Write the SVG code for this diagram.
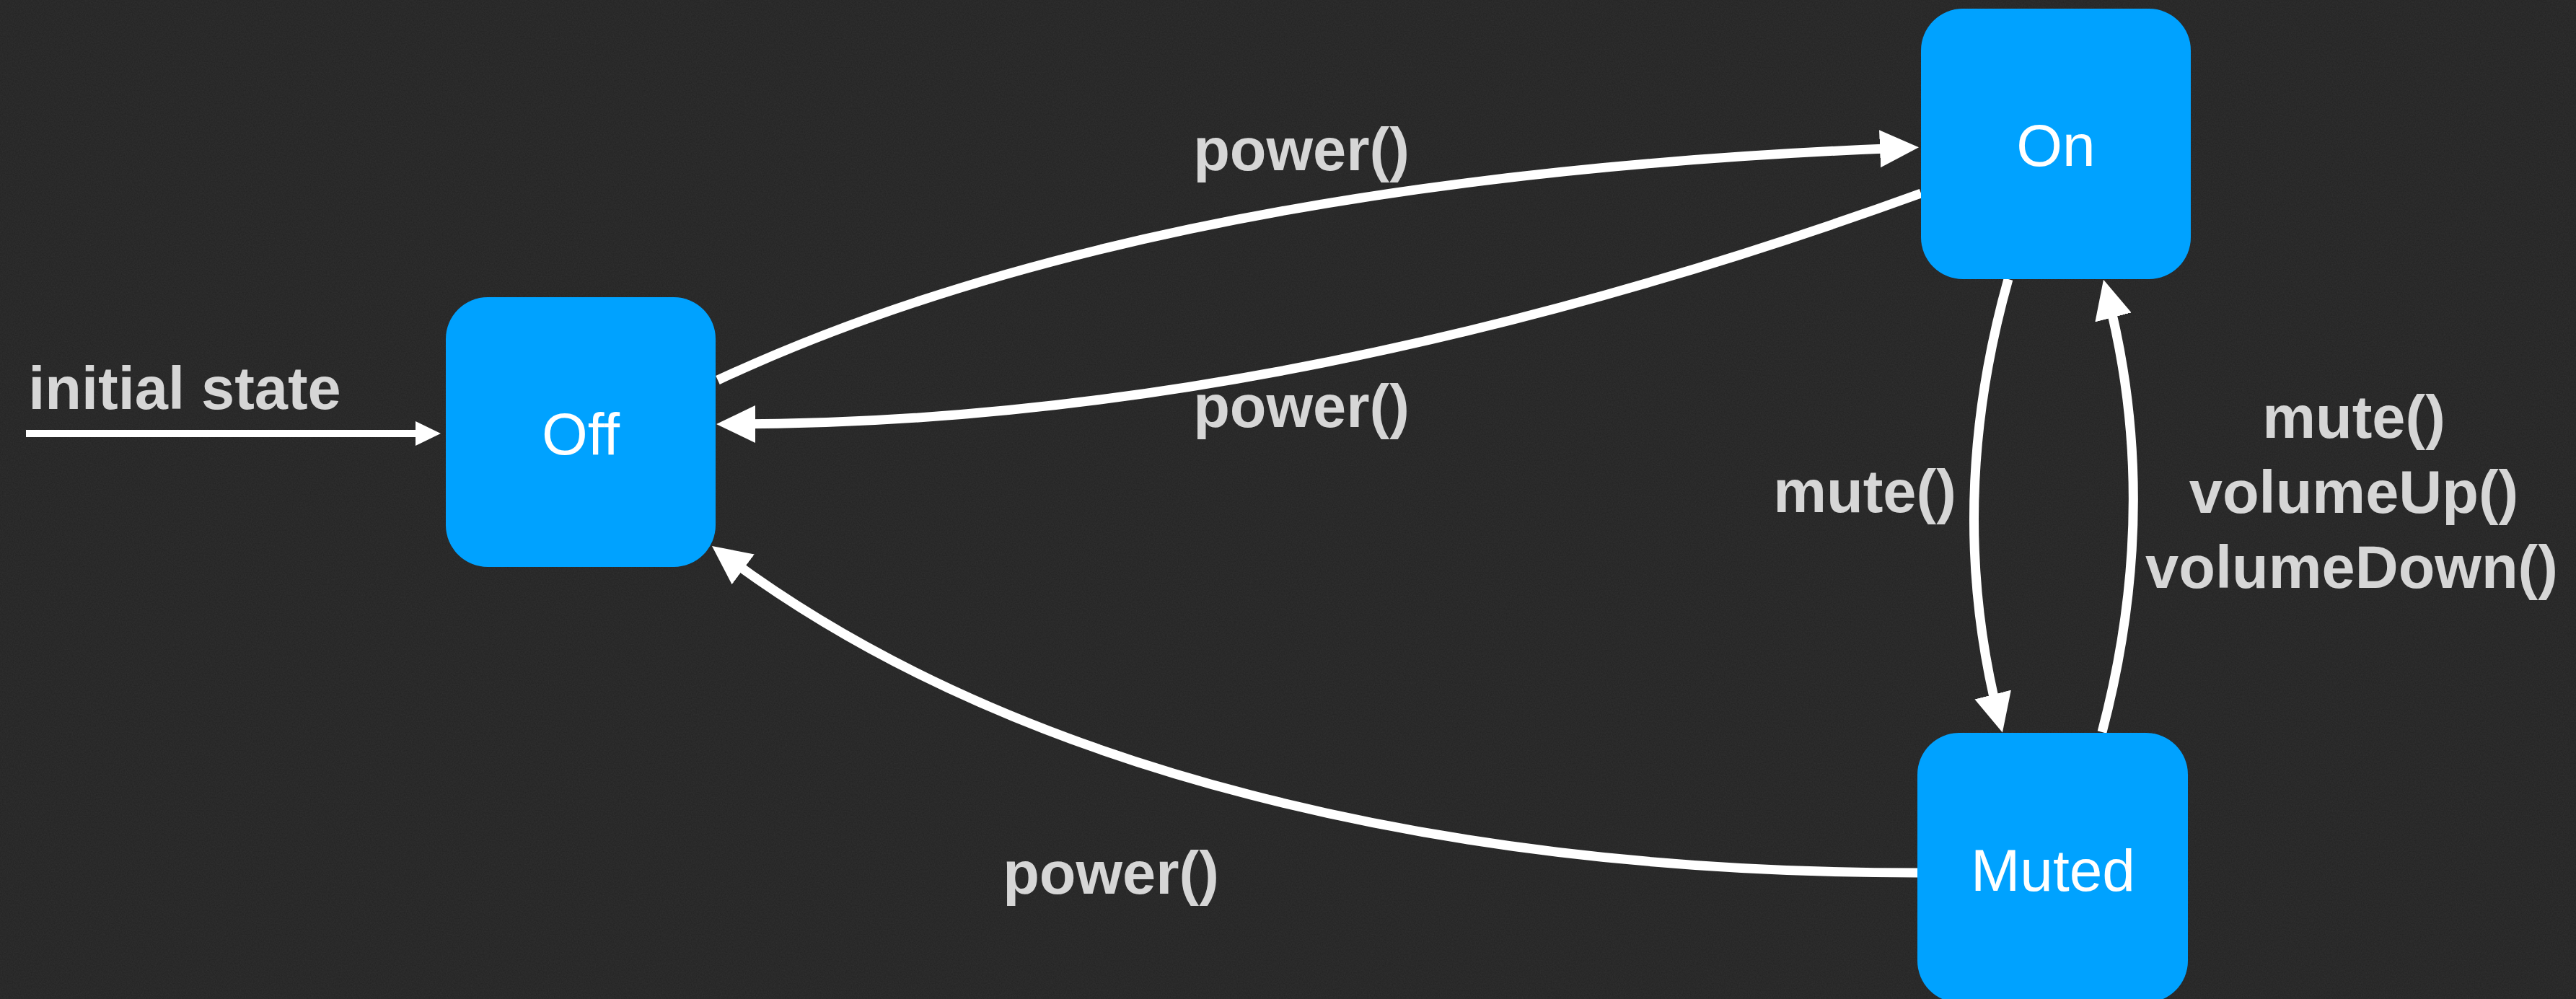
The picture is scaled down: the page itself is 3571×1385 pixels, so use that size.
<svg xmlns="http://www.w3.org/2000/svg" width="3571" height="1385" viewBox="0 0 3571 1385">
<defs>
<style>
.node{fill:#00A2FF}
.ntext{font-family:"Liberation Sans",Arial,sans-serif;font-size:82px;fill:#ffffff;text-anchor:middle}
.label{font-family:"Liberation Sans",Arial,sans-serif;font-weight:bold;font-size:83px;fill:#d6d6d6;text-anchor:middle}
.edge{fill:none;stroke:#ffffff;stroke-width:13}
.init{fill:none;stroke:#ffffff;stroke-width:10}
</style>
<filter id="grain" x="0" y="0" width="100%" height="100%">
<feTurbulence type="fractalNoise" baseFrequency="0.6" numOctaves="2" seed="3" result="n"/>
<feColorMatrix in="n" type="matrix" values="0 0 0 0 1  0 0 0 0 1  0 0 0 0 1  0 0 0 0.06 0"/>
</filter>
<marker id="ah" markerUnits="userSpaceOnUse" markerWidth="56" markerHeight="54" refX="34" refY="26" orient="auto" viewBox="0 0 56 54">
<path d="M0,0 L54,26 L0,52 Z" fill="#ffffff"/>
</marker>
<marker id="ahs" markerUnits="userSpaceOnUse" markerWidth="36" markerHeight="36" refX="20" refY="17" orient="auto" viewBox="0 0 36 36">
<path d="M0,0 L35,17 L0,34 Z" fill="#ffffff"/>
</marker>
</defs>
<rect x="0" y="0" width="3571" height="1385" fill="#232323"/>
<rect x="0" y="0" width="3571" height="1385" fill="#ffffff" filter="url(#grain)"/>
<g id="connectors">
<path class="init" d="M36,601 L596,601" marker-end="url(#ahs)"/>
<path class="edge" d="M995,527 Q1600,245 2640,205" marker-end="url(#ah)"/>
<path class="edge" d="M2663,268 Q1780,588 1013,588" marker-end="url(#ah)"/>
<path class="edge" d="M2658,1210 C2000,1210 1403,1069 1003,769" marker-end="url(#ah)"/>
<path class="edge" d="M2784,387 Q2696,700 2771,996" marker-end="url(#ah)"/>
<path class="edge" d="M2914,1015 Q2997,700 2921,407" marker-end="url(#ah)"/>
</g>
<g id="labels">
<text class="label" x="256" y="567">initial state</text>
<text class="label" x="1804" y="236">power()</text>
<text class="label" x="1804" y="592">power()</text>
<text class="label" x="1540" y="1239">power()</text>
<text class="label" x="2585" y="710">mute()</text>
<text class="label" x="3263" y="607">mute()</text>
<text class="label" x="3263" y="711">volumeUp()</text>
<text class="label" x="3260" y="815">volumeDown()</text>
</g>
<g id="node-off">
<rect class="node" x="618" y="412" width="374" height="374" rx="58"/>
<text class="ntext" x="805" y="630">Off</text>
</g>
<g id="node-on">
<rect class="node" x="2663" y="12" width="374" height="375" rx="58"/>
<text class="ntext" x="2850" y="230">On</text>
</g>
<g id="node-muted">
<rect class="node" x="2658" y="1016" width="375" height="374" rx="58"/>
<text class="ntext" x="2846" y="1235">Muted</text>
</g>
</svg>
